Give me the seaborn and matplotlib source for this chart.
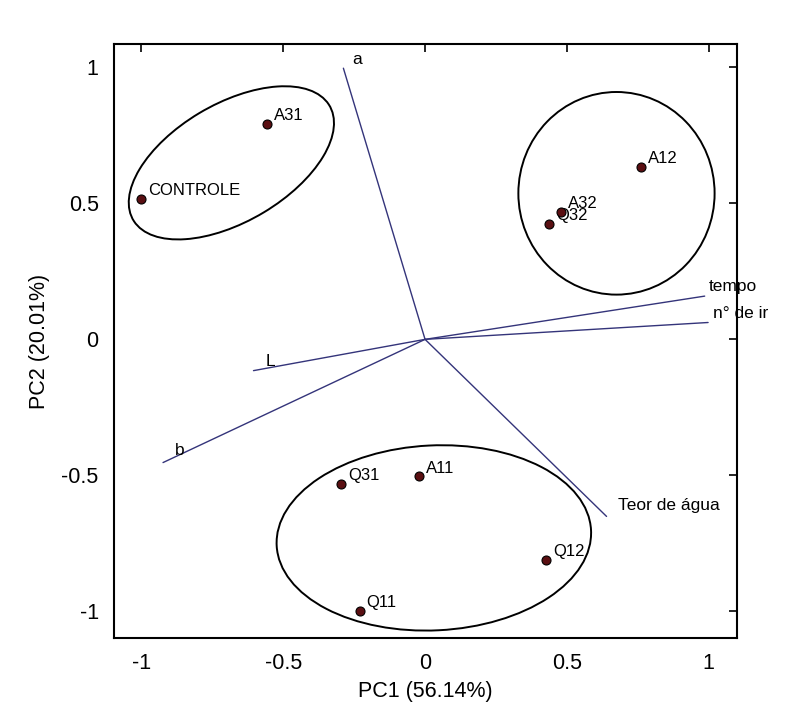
import numpy as np
import pandas as pd
import matplotlib
matplotlib.use("Agg")
import matplotlib.pyplot as plt
from matplotlib.patches import Ellipse
import seaborn as sns

# PCA scores (samples)
samples = ["A31", "CONTROLE", "A12", "A32", "Q32", "Q31", "A11", "Q11", "Q12"]
pc1_scores = [-0.557, -1.00, 0.763, 0.478, 0.438, -0.297, -0.021, -0.231, 0.426]
pc2_scores = [0.791, 0.515, 0.635, 0.470, 0.424, -0.531, -0.504, -0.997, -0.811]

# PCA loadings (variables)
variables = ["a", "tempo", "n° de ir", "L", "b", "Teor de água"]
pc1_load = [-0.288, 0.986, 0.998, -0.605, -0.924, 0.640]
pc2_load = [0.997, 0.159, 0.062, -0.115, -0.453, -0.651]

# group ellipses: centre x, centre y, width, height, angle
ell_cx = [-0.683, 0.675, 0.031]
ell_cy = [0.649, 0.537, -0.730]
ell_w = [0.81, 0.692, 1.11]
ell_h = [0.43, 0.745, 0.68]
ell_ang = [32, 0, 3]

scores = pd.DataFrame({"sample": samples, "PC1": pc1_scores, "PC2": pc2_scores})

sns.set_theme(style="white")
plt.rcParams["font.family"] = ["Liberation Sans", "DejaVu Sans"]
plt.rcParams["text.color"] = "black"
plt.rcParams["axes.labelcolor"] = "black"

fig = plt.figure(figsize=(8.06, 7.13), dpi=100)
ax = fig.add_axes([0.1414, 0.1052, 0.773, 0.8331])

# loading lines from origin
for name, lx, ly in zip(variables, pc1_load, pc2_load):
    ax.plot([0, lx], [0, ly], color="#34347a", lw=1.0, zorder=2)

# label placement for loadings
ax.text(-0.24, 1.03, "a", fontsize=12.5, ha="center", va="center")
ax.text(1.0, 0.194, "tempo", fontsize=12.5, ha="left", va="center")
ax.text(1.015, 0.096, "n° de ir", fontsize=12.5, ha="left", va="center")
ax.text(-0.546, -0.082, "L", fontsize=12.5, ha="center", va="center")
ax.text(-0.866, -0.41, "b", fontsize=12.5, ha="center", va="center")
ax.text(0.68, -0.61, "Teor de água", fontsize=12.5, ha="left", va="center")

# ellipses around groups
for cx, cy, w, h, ang in zip(ell_cx, ell_cy, ell_w, ell_h, ell_ang):
    ax.add_patch(Ellipse((cx, cy), w, h, angle=ang, fill=False,
                         edgecolor="black", lw=1.4, zorder=3))

# sample scores
sns.scatterplot(data=scores, x="PC1", y="PC2", ax=ax, color="#5a0f12",
                edgecolor="black", linewidth=0.8, s=42, zorder=4, legend=False)
for _, row in scores.iterrows():
    ax.annotate(row["sample"], (row["PC1"], row["PC2"]), xytext=(5, 6),
                textcoords="offset points", fontsize=12, ha="left", va="center")

ax.set_xlim(-1.097, 1.1)
ax.set_ylim(-1.098, 1.086)
ax.set_xticks([-1, -0.5, 0, 0.5, 1])
ax.set_xticklabels(["-1", "-0.5", "0", "0.5", "1"])
ax.set_yticks([-1, -0.5, 0, 0.5, 1])
ax.set_yticklabels(["-1", "-0.5", "0", "0.5", "1"])
ax.tick_params(direction="in", length=6, width=1.2, top=True, right=True,
               labelsize=15.5, colors="black", pad=11)
for sp in ax.spines.values():
    sp.set_color("black")
    sp.set_linewidth(1.5)

ax.set_xlabel("PC1 (56.14%)", fontsize=15.5, labelpad=5)
ax.set_ylabel("PC2 (20.01%)", fontsize=15.5, labelpad=8)

fig.savefig("out.png", dpi=100, facecolor="white")
